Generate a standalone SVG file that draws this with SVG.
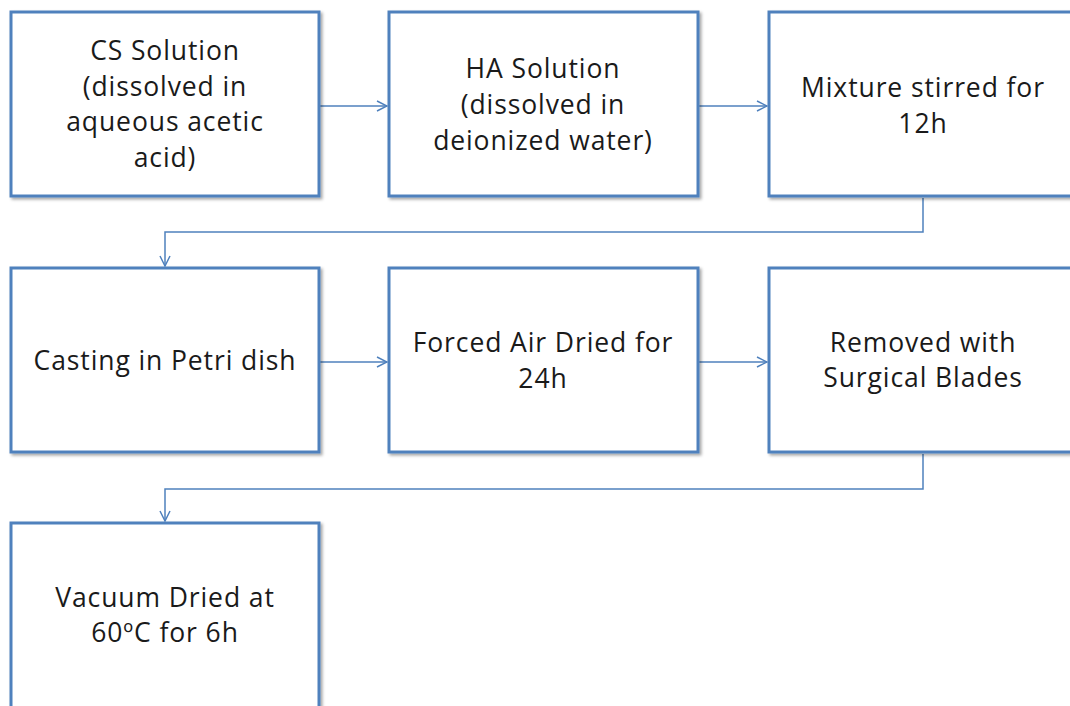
<svg xmlns="http://www.w3.org/2000/svg" width="1070" height="706" viewBox="0 0 1070 706">
<defs>
<filter id="sh" x="-5%" y="-5%" width="115%" height="115%">
<feDropShadow dx="2" dy="2" stdDeviation="1.5" flood-color="#000" flood-opacity="0.35"/>
</filter>
<marker id="ah" markerWidth="12" markerHeight="12" refX="11" refY="6" orient="auto" markerUnits="userSpaceOnUse">
<path d="M1,1 L11,6 L1,11" fill="none" stroke="#4F81BD" stroke-width="1.5"/>
</marker>
<style>
.box{fill:#fff;stroke:#4F81BD;stroke-width:3;filter:url(#sh)}
.t{font-family:"Open Sans","Noto Sans","Liberation Sans",sans-serif;font-size:26.5px;letter-spacing:0.9px;fill:#1a1a1a;text-anchor:middle}
.c{fill:none;stroke:#4F81BD;stroke-width:1.5;marker-end:url(#ah)}
</style>
</defs>
<rect width="1070" height="706" fill="#fff"/>
<g id="connectors">
<path class="c" d="M320,106 H387"/>
<path class="c" d="M699,106 H767"/>
<path class="c" d="M923,198 V232 H165 V266"/>
<path class="c" d="M320,362 H387"/>
<path class="c" d="M699,362 H767"/>
<path class="c" d="M923,454 V489 H165 V521"/>
</g>
<g id="n1"><rect class="box" x="11" y="12" width="308" height="184"/>
<text class="t" x="165" y="60">CS Solution</text><text class="t" x="165" y="96">(dissolved in</text><text class="t" x="165" y="131">aqueous acetic</text><text class="t" x="165" y="167">acid)</text></g>
<g id="n2"><rect class="box" x="389" y="12" width="309" height="184"/>
<text class="t" x="543" y="78">HA Solution</text><text class="t" x="543" y="114">(dissolved in</text><text class="t" x="543" y="150">deionized water)</text></g>
<g id="n3"><rect class="box" x="769" y="12" width="309" height="184"/>
<text class="t" x="923" y="97">Mixture stirred for</text><text class="t" x="923" y="133">12h</text></g>
<g id="n4"><rect class="box" x="11" y="268" width="308" height="184"/>
<text class="t" x="165" y="370">Casting in Petri dish</text></g>
<g id="n5"><rect class="box" x="389" y="268" width="309" height="184"/>
<text class="t" x="543" y="352">Forced Air Dried for</text><text class="t" x="543" y="388">24h</text></g>
<g id="n6"><rect class="box" x="769" y="268" width="309" height="184"/>
<text class="t" x="923" y="352">Removed with</text><text class="t" x="923" y="387">Surgical Blades</text></g>
<g id="n7"><rect class="box" x="11" y="523" width="308" height="200"/>
<text class="t" x="165" y="607">Vacuum Dried at</text><text class="t" x="165" y="642">60ºC for 6h</text></g>
</svg>
